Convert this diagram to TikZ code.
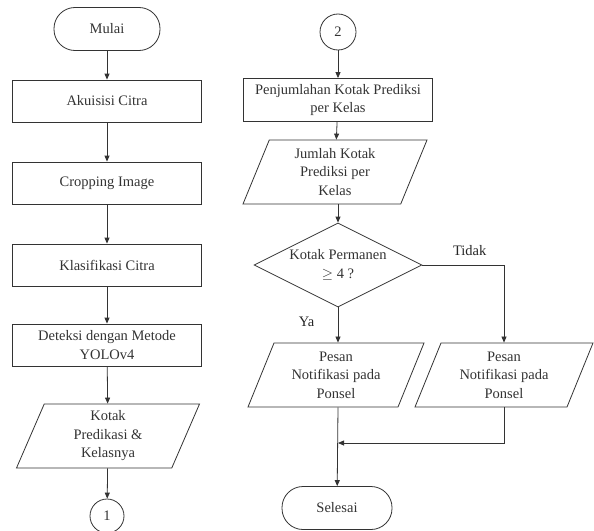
\documentclass[tikz,border=0pt]{standalone}
\usepackage{fontspec}
\setmainfont{Liberation Serif}
\usetikzlibrary{positioning,shapes.geometric,arrows.meta}

\tikzset{
  >={Triangle[length=6pt,width=5pt]},
  every node/.style={font=\fontsize{14.5}{18.5}\selectfont,align=center,text=black!85},
  proses/.style={draw,rectangle,minimum width=189pt,minimum height=42pt,inner sep=2pt},
  terminal/.style={draw,rectangle,rounded corners=21pt,minimum width=106pt,minimum height=43pt},
  konektor/.style={draw,circle,minimum size=36pt,inner sep=0pt},
  dataio/.style={draw,trapezium,trapezium left angle=64,trapezium right angle=116,
    trapezium stretches body,minimum height=64pt,inner xsep=0pt},
  keputusan/.style={draw,diamond,aspect=2,minimum width=168pt,minimum height=84pt,inner sep=0pt},
  garis/.style={black!80,line width=0.8pt}
}

\begin{document}
\begin{tikzpicture}[x=1pt,y=-1pt]
  \useasboundingbox (0,0) rectangle (594,530);

  % kolom kiri
  \node[terminal,garis] (mulai) at (107,29) {Mulai};
  \node[proses,garis] (akuisisi) at (107,101) {Akuisisi Citra};
  \node[proses,garis] (cropping) at (107,183) {Cropping Image};
  \node[proses,garis] (klasifikasi) at (107,265) {Klasifikasi Citra};
  \node[proses,garis] (deteksi) at (107,345) {Deteksi dengan Metode\\YOLOv4};
  \node[dataio,garis,minimum width=183pt] (kotak) at (108,436) {Kotak\\Predikasi \&\\Kelasnya};
  \node[konektor,garis,minimum size=34pt] (satu) at (107,516) {1};

  \draw[garis,->] (mulai) -- (akuisisi);
  \draw[garis,->] (akuisisi) -- (cropping);
  \draw[garis,->] (cropping) -- (klasifikasi);
  \draw[garis,->] (klasifikasi) -- (deteksi);
  \draw[garis,->] (deteksi) -- (kotak);
  \draw[garis,->] (kotak) -- (satu);

  % kolom kanan
  \node[konektor,garis] (dua) at (338,32) {2};
  \node[proses,garis,minimum height=43pt] (jumlahkan) at (338,100) {Penjumlahan Kotak Prediksi\\per Kelas};
  \node[dataio,garis,minimum width=184pt] (jumlah) at (335,172) {Jumlah Kotak\\Prediksi per\\Kelas};
  \node[keputusan,garis] (cek) at (338,265) {Kotak Permanen\\$\geq$ 4 ?};
  \node[dataio,garis,minimum width=176pt] (pesanya) at (336,375) {Pesan\\Notifikasi pada\\Ponsel};
  \node[dataio,garis,minimum width=178pt] (pesantidak) at (504,375) {Pesan\\Notifikasi pada\\Ponsel};
  \node[terminal,garis,minimum width=110pt] (selesai) at (337,508) {Selesai};
  \coordinate (gabung) at (338,443);

  \draw[garis,->] (dua) -- (jumlahkan);
  \draw[garis,->] (jumlahkan) -- (jumlah);
  \draw[garis,->] (jumlah.south -| cek.north) -- (cek);
  \draw[garis,->] (cek.south) -- (pesanya.north -| cek.south) node[pos=.42,left=20pt] {Ya};
  \draw[garis,->] (cek.east) -| (pesantidak.north) node[pos=.29,above=6pt] {Tidak};
  \draw[garis,->] (pesanya.south -| gabung) -- (selesai);
  \draw[garis,->] (pesantidak.south) |- (gabung);
\end{tikzpicture}
\end{document}
